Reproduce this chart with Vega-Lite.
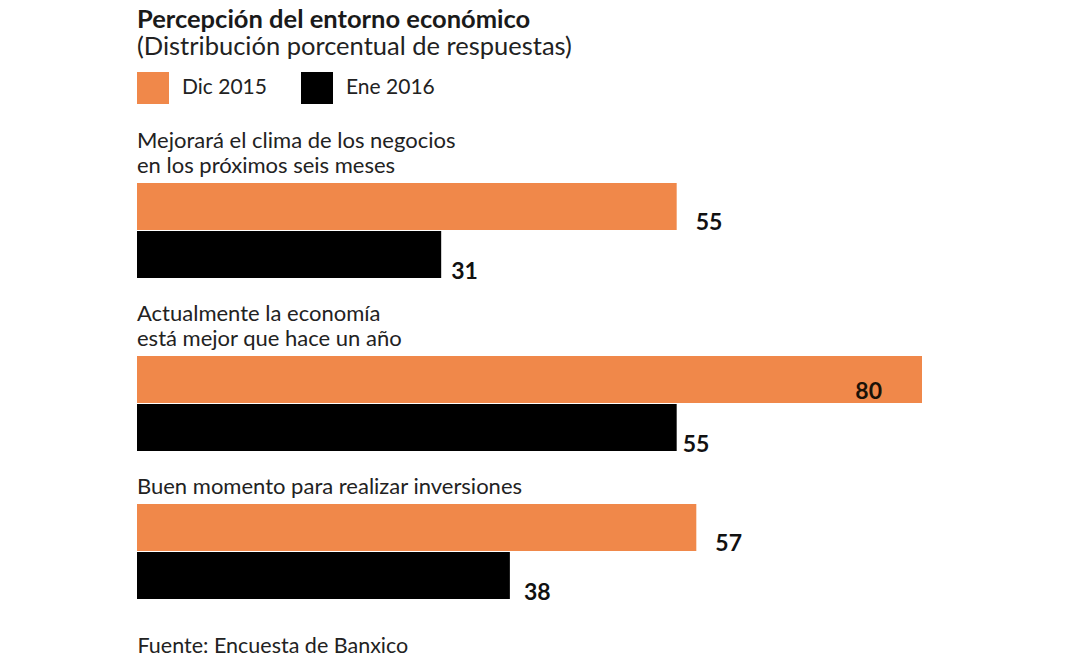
{
  "$schema": "https://vega.github.io/schema/vega-lite/v6.json",
  "background": "white",
  "padding": {"left": 137, "top": 7, "right": 20, "bottom": 8},
  "title": {
    "text": "Percepción del entorno económico",
    "subtitle": "(Distribución porcentual de respuestas)",
    "anchor": "start",
    "font": "Lato",
    "fontSize": 25.5,
    "fontWeight": "bold",
    "color": "#1a1a1a",
    "subtitleFont": "Lato",
    "subtitleFontSize": 25.5,
    "subtitleFontWeight": "normal",
    "subtitleColor": "#222222",
    "subtitlePadding": 1.5,
    "offset": 12
  },
  "data": {
    "values": [
      {"pregunta": "clima", "serie": "Dic 2015", "valor": 55},
      {"pregunta": "clima", "serie": "Ene 2016", "valor": 31},
      {"pregunta": "economia", "serie": "Dic 2015", "valor": 80},
      {"pregunta": "economia", "serie": "Ene 2016", "valor": 55},
      {"pregunta": "inversiones", "serie": "Dic 2015", "valor": 57},
      {"pregunta": "inversiones", "serie": "Ene 2016", "valor": 38}
    ]
  },
  "spacing": 19,
  "resolve": {"scale": {"color": "shared"}},
  "vconcat": [
    {
      "title": {"text": ["Mejorará el clima de los negocios", "en los próximos seis meses"]},
      "width": 785,
      "height": 95,
      "transform": [{"filter": "datum.pregunta === 'clima'"}],
      "encoding": {
        "x": {"field": "valor", "type": "quantitative", "scale": {"domain": [0, 80]}, "axis": null},
        "y": {"field": "serie", "type": "nominal", "sort": ["Dic 2015", "Ene 2016"], "axis": null, "scale": {"paddingInner": 0.02, "paddingOuter": 0}}
      },
      "layer": [
        {
          "mark": {"type": "bar"},
          "encoding": {
            "color": {"field": "serie", "type": "nominal", "sort": ["Dic 2015", "Ene 2016"],
              "scale": {"domain": ["Dic 2015", "Ene 2016"], "range": ["#f0884a", "#000000"]},
              "legend": {"title": null}}
          }
        },
        {
          "transform": [{"filter": "datum.serie === 'Dic 2015' && datum.valor <= 70"}],
          "mark": {"type": "text", "align": "left", "baseline": "alphabetic", "dx": 19, "dy": 0, "fontSize": 23, "fontWeight": "bold", "color": "#111111"},
          "encoding": {
            "text": {"field": "valor", "type": "quantitative"},
            "y": {"field": "serie", "type": "nominal", "sort": ["Dic 2015", "Ene 2016"], "bandPosition": 1, "axis": null}
          }
        },
        {
          "transform": [{"filter": "datum.serie === 'Ene 2016'"}],
          "mark": {"type": "text", "align": "left", "baseline": "alphabetic", "dx": 10, "dy": 1, "fontSize": 23, "fontWeight": "bold", "color": "#111111"},
          "encoding": {
            "text": {"field": "valor", "type": "quantitative"},
            "y": {"field": "serie", "type": "nominal", "sort": ["Dic 2015", "Ene 2016"], "bandPosition": 1, "axis": null}
          }
        }
      ]
    },
    {
      "title": {"text": ["Actualmente la economía", "está mejor que hace un año"]},
      "width": 785,
      "height": 95,
      "transform": [{"filter": "datum.pregunta === 'economia'"}],
      "encoding": {
        "x": {"field": "valor", "type": "quantitative", "scale": {"domain": [0, 80]}, "axis": null},
        "y": {"field": "serie", "type": "nominal", "sort": ["Dic 2015", "Ene 2016"], "axis": null, "scale": {"paddingInner": 0.02, "paddingOuter": 0}}
      },
      "layer": [
        {
          "mark": {"type": "bar"},
          "encoding": {
            "color": {"field": "serie", "type": "nominal", "sort": ["Dic 2015", "Ene 2016"], "legend": null}
          }
        },
        {
          "transform": [{"filter": "datum.serie === 'Dic 2015' && datum.valor > 70"}],
          "mark": {"type": "text", "align": "right", "baseline": "alphabetic", "dx": -40, "dy": -4, "fontSize": 23, "fontWeight": "bold", "color": "#1a1208"},
          "encoding": {
            "text": {"field": "valor", "type": "quantitative"},
            "y": {"field": "serie", "type": "nominal", "sort": ["Dic 2015", "Ene 2016"], "bandPosition": 1, "axis": null}
          }
        },
        {
          "transform": [{"filter": "datum.serie === 'Ene 2016'"}],
          "mark": {"type": "text", "align": "left", "baseline": "alphabetic", "dx": 6, "dy": 1, "fontSize": 23, "fontWeight": "bold", "color": "#111111"},
          "encoding": {
            "text": {"field": "valor", "type": "quantitative"},
            "y": {"field": "serie", "type": "nominal", "sort": ["Dic 2015", "Ene 2016"], "bandPosition": 1, "axis": null}
          }
        }
      ]
    },
    {
      "title": {"text": "Buen momento para realizar inversiones"},
      "width": 785,
      "height": 95,
      "transform": [{"filter": "datum.pregunta === 'inversiones'"}],
      "encoding": {
        "x": {"field": "valor", "type": "quantitative", "scale": {"domain": [0, 80]},
          "axis": {"title": "Fuente: Encuesta de Banxico", "labels": false, "ticks": false, "domain": false, "grid": false,
            "titleAnchor": "start", "titleAlign": "left", "titleFont": "Lato", "titleFontSize": 21.5, "titleFontWeight": "normal",
            "titleColor": "#222222", "titlePadding": 36}},
        "y": {"field": "serie", "type": "nominal", "sort": ["Dic 2015", "Ene 2016"], "axis": null, "scale": {"paddingInner": 0.02, "paddingOuter": 0}}
      },
      "layer": [
        {
          "mark": {"type": "bar"},
          "encoding": {
            "color": {"field": "serie", "type": "nominal", "sort": ["Dic 2015", "Ene 2016"], "legend": null}
          }
        },
        {
          "transform": [{"filter": "datum.serie === 'Dic 2015' && datum.valor <= 70"}],
          "mark": {"type": "text", "align": "left", "baseline": "alphabetic", "dx": 19, "dy": 0, "fontSize": 23, "fontWeight": "bold", "color": "#111111"},
          "encoding": {
            "text": {"field": "valor", "type": "quantitative"},
            "y": {"field": "serie", "type": "nominal", "sort": ["Dic 2015", "Ene 2016"], "bandPosition": 1, "axis": null}
          }
        },
        {
          "transform": [{"filter": "datum.serie === 'Ene 2016'"}],
          "mark": {"type": "text", "align": "left", "baseline": "alphabetic", "dx": 14, "dy": 1, "fontSize": 23, "fontWeight": "bold", "color": "#111111"},
          "encoding": {
            "text": {"field": "valor", "type": "quantitative"},
            "y": {"field": "serie", "type": "nominal", "sort": ["Dic 2015", "Ene 2016"], "bandPosition": 1, "axis": null}
          }
        }
      ]
    }
  ],
  "config": {
    "font": "Lato",
    "view": {"stroke": null},
    "title": {"anchor": "start", "font": "Lato", "fontSize": 22, "fontWeight": "normal", "color": "#222222", "lineHeight": 25, "baseline": "alphabetic", "offset": 5},
    "legend": {
      "orient": "top",
      "direction": "horizontal",
      "symbolType": "square",
      "symbolSize": 1024,
      "symbolStrokeWidth": 0,
      "symbolOpacity": 1,
      "labelFont": "Lato",
      "labelFontSize": 21,
      "labelColor": "#222222",
      "labelOffset": 13,
      "columnPadding": 34,
      "offset": 26,
      "padding": 0
    }
  }
}
